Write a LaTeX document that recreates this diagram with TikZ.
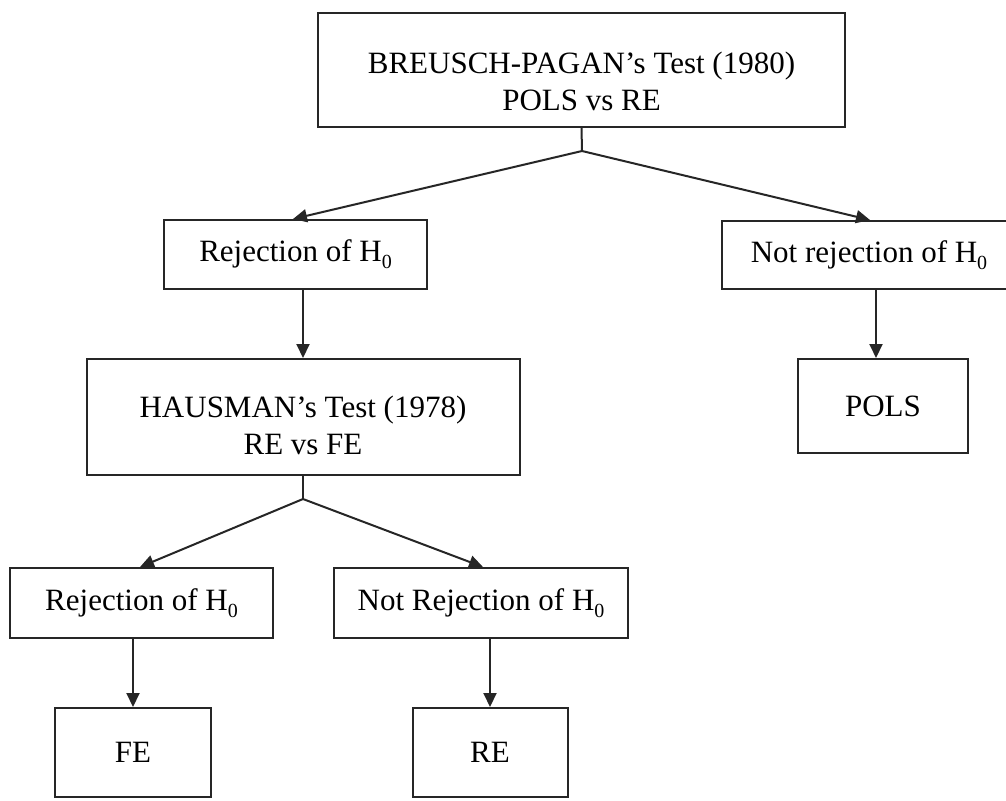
\documentclass[tikz,border=0pt]{standalone}
\usepackage{fontspec}
\setmainfont{Liberation Serif}
\usetikzlibrary{arrows.meta}
\newcommand\subz{\raisebox{-7pt}{\fontsize{20}{20}\selectfont 0}}
\newcommand\twoline[3]{\raisebox{-#3}[\height][\depth]{\begin{tabular}{@{}c@{}}#1\\#2\end{tabular}}}
\tikzset{
  box/.style={draw=black!85, line width=2pt, fill=white, inner sep=0pt,
    font=\fontsize{31}{37}\selectfont},
  conn/.style={draw=black!85, line width=2pt},
  arr/.style={conn, -{Triangle[length=14pt,width=13pt]}}
}
\begin{document}
\begin{tikzpicture}[x=1pt,y=-1pt]
\useasboundingbox (0,0) rectangle (1006,800);
\clip (0,0) rectangle (1006,800);
\node[box, minimum width=527pt, minimum height=114pt] (bp) at (581.5,70) {\twoline{BREUSCH-PAGAN's Test (1980)}{POLS vs RE}{15pt}};
\node[box, minimum width=263pt, minimum height=69pt] (rej1) at (295.5,254.5) {Rejection of H\subz};
\node[box, minimum width=294pt, minimum height=68pt] (nrej1) at (869,255) {Not rejection of H\subz};
\node[box, minimum width=433pt, minimum height=116pt] (haus) at (303,417) {\twoline{HAUSMAN's Test (1978)}{RE vs FE}{12pt}};
\node[box, minimum width=170pt, minimum height=94pt] (pols) at (883,406) {POLS};
\node[box, minimum width=263pt, minimum height=70pt] (rej2) at (141.5,603) {Rejection of H\subz};
\node[box, minimum width=294pt, minimum height=70pt] (nrej2) at (481,603) {Not Rejection of H\subz};
\node[box, minimum width=156pt, minimum height=89pt] (fe) at (133,752.5) {FE};
\node[box, minimum width=155pt, minimum height=89pt] (re) at (490,752.5) {RE};
\coordinate (j1) at (582,151);
\coordinate (j2) at (303,499);
\coordinate (pin) at ([xshift=-7pt]pols.north);
\draw[conn] (bp.south) -- (j1);
\draw[arr] (j1) -- ([xshift=-2.5pt]rej1.north);
\draw[arr] (j1) -- ([xshift=1pt]nrej1.north);
\draw[arr] (rej1.south -| haus.north) -- (haus.north);
\draw[arr] (nrej1.south -| pin) -- (pin);
\draw[conn] (haus.south) -- (j2);
\draw[arr] (j2) -- ([xshift=-1.5pt]rej2.north);
\draw[arr] (j2) -- ([xshift=2pt]nrej2.north);
\draw[arr] (rej2.south -| fe.north) -- (fe.north);
\draw[arr] (nrej2.south -| re.north) -- (re.north);
\end{tikzpicture}
\end{document}
